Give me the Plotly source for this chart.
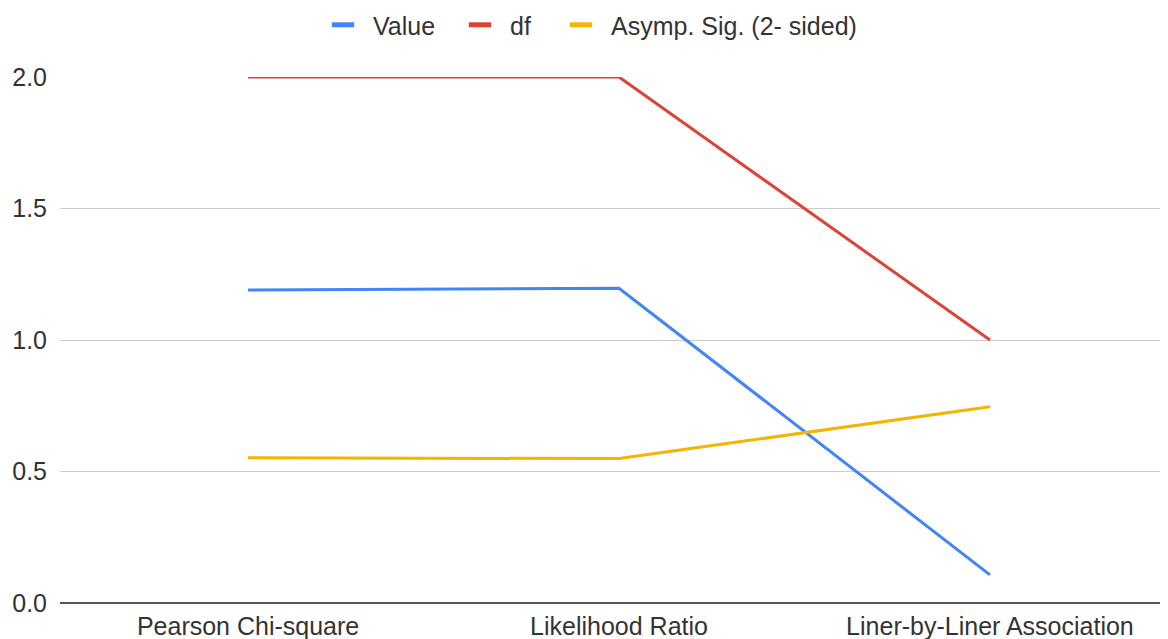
import plotly.graph_objects as go

categories = ["Pearson Chi-square", "Likelihood Ratio", "Liner-by-Liner Association"]
value = [1.19, 1.197, 0.107]
df = [2, 2, 1]
asymp = [0.552, 0.549, 0.746]

series = [("Value", value, "#4285F4"), ("df", df, "#DB4437"), ("Asymp. Sig. (2- sided)", asymp, "#F4B400")]
legend_ids = ["legend", "legend2", "legend3"]
legend_left_px = [313, 450, 551]

fig = go.Figure()
for name, ys, color in series:
    fig.add_trace(go.Scatter(x=[0, 1, 2], y=ys, mode="lines", name=name,
                             line=dict(color=color, width=3), showlegend=False))
for (name, ys, color), lg in zip(series, legend_ids):
    fig.add_trace(go.Scatter(x=[None], y=[None], mode="markers", name=name,
                             marker=dict(symbol="line-ew", size=20, color=color,
                                         line=dict(color=color, width=6)),
                             showlegend=True, legend=lg))

base_font = dict(family="Liberation Sans, Arial, sans-serif", size=25, color="#333")
fig.update_layout(
    width=1160, height=631,
    margin=dict(l=52, r=0, t=69, b=36),
    paper_bgcolor="white", plot_bgcolor="white",
    font=base_font,
    showlegend=True,
)
legend_cfg = {}
for lg, px in zip(legend_ids, legend_left_px):
    legend_cfg[lg] = dict(orientation="h", x=(px - 8) / 1160, xanchor="left", xref="container",
                          y=0.973, yanchor="middle", yref="container",
                          font=dict(size=25, color="#333"), itemwidth=50)
fig.update_layout(**legend_cfg)
fig.update_xaxes(
    tickmode="array", tickvals=[0, 1, 2], ticktext=categories,
    range=[-0.507, 2.48], showgrid=False, zeroline=False, automargin=False,
    showline=False, ticks="", ticklabelstandoff=6, tickfont=dict(size=25, color="#333"),
)
fig.update_yaxes(
    range=[0, 2.0], tickvals=[0, 0.5, 1.0, 1.5, 2.0], tickformat=".1f",
    showgrid=True, gridcolor="#cccccc", gridwidth=1, automargin=False,
    zeroline=True, zerolinecolor="#555555", zerolinewidth=2,
    ticks="", ticklabelstandoff=12, tickfont=dict(size=25, color="#333"),
)
fig.write_html("out.html")
